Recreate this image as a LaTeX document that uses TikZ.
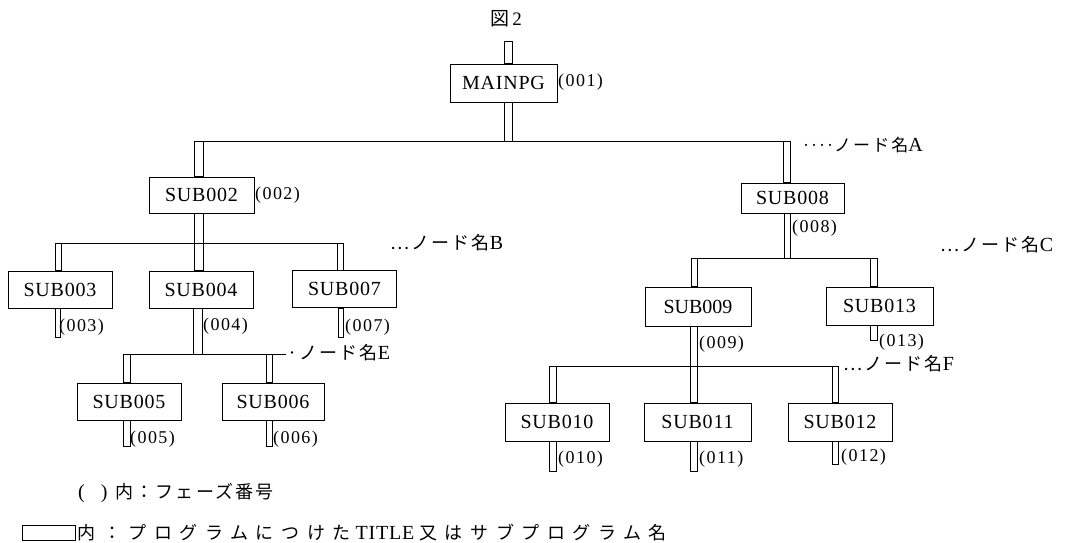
\documentclass[tikz,border=0pt]{standalone}
\usepackage{fontspec}
\setmainfont{Liberation Serif}
\newfontfamily\jpplain{Noto Sans CJK JP}
\newfontfamily\jpfont[LetterSpace=12]{Noto Sans CJK JP}
\newfontfamily\jplegend[LetterSpace=42]{Noto Sans CJK JP}
\newfontfamily\boxfont[LetterSpace=4]{Liberation Serif}
\newfontfamily\numfont[LetterSpace=8]{Liberation Serif}
\usetikzlibrary{positioning}

\begin{document}
\begin{tikzpicture}[x=1pt,y=-1pt,
  prog/.style={rectangle,draw=black,line width=0.7pt,fill=white,inner sep=0pt,minimum width=104pt,minimum height=37pt,font=\boxfont\fontsize{20}{22}\selectfont},
  bar/.style={draw=black,line width=0.6pt},
  bus/.style={draw=black,line width=0.7pt},
  phase/.style={anchor=west,inner sep=0pt,font=\numfont\fontsize{18}{20}\selectfont},
  tag/.style={anchor=west,inner sep=0pt,font=\fontsize{20}{22}\selectfont}]
\useasboundingbox (0,0) rectangle (1071,542);
\node[inner sep=0pt,font=\fontsize{19}{21}\selectfont] (title) at (506,19) {{\jpplain 図}\,2};
% bus levels and stub ends
\coordinate (top) at (0,41);
\coordinate (busA) at (0,141);
\coordinate (busB) at (0,243);
\coordinate (busE) at (0,354);
\coordinate (busC) at (0,258);
\coordinate (busF) at (0,366);
\coordinate (endB) at (0,337);
\coordinate (endE) at (0,446);
\coordinate (endC) at (0,340);
\coordinate (endF) at (0,471);
\coordinate (endG) at (0,464);
% programs
\node[prog,minimum width=107pt,minimum height=38pt] (main) at (503.5,83) {MAINPG};
\node[prog,minimum width=105pt,minimum height=36pt] (sub2) at (201.5,195) {SUB002};
\node[prog] (sub3) at (60,289.5) {SUB003};
\node[prog] (sub4) at (201,289.5) {SUB004};
\node[prog] (sub7) at (344.5,289) {SUB007};
\node[prog] (sub5) at (129,401.5) {SUB005};
\node[prog,minimum width=102pt] (sub6) at (273,401.5) {SUB006};
\node[prog,minimum width=103pt,minimum height=30pt] (sub8) at (792.5,198) {SUB008};
\node[prog,minimum width=106pt,minimum height=39pt] (sub9) at (698,306.5) {\addfontfeature{LetterSpace=0}SUB009};
\node[prog,minimum width=107pt,minimum height=38pt] (sub13) at (879.5,306) {SUB013};
\node[prog,minimum height=38pt] (sub10) at (557,422) {SUB010};
\node[prog,minimum width=107pt,minimum height=38pt] (sub11) at (697.5,422) {SUB011};
\node[prog,minimum height=38pt] (sub12) at (840,422) {SUB012};
% buses
\draw[bus] (194,0 |- busA) -- (790,0 |- busA);
\draw[bus] (55,0 |- busB) -- (343,0 |- busB);
\draw[bus] (123,0 |- busE) -- (286,0 |- busE);
\draw[bus] (691,0 |- busC) -- (877,0 |- busC);
\draw[bus] (549,0 |- busF) -- (838,0 |- busF);
% double bars
\draw[bar] (504,0 |- top) rectangle (512,0 |- main.north);
\draw[bar] (504,0 |- main.south) rectangle (512,0 |- busA);
\draw[bar] (194,0 |- busA) rectangle (203,0 |- sub2.north);
\draw[bar] (783,0 |- busA) rectangle (790,0 |- sub8.north);
\draw[bar] (194,0 |- sub2.south) rectangle (203,0 |- busB);
\draw[bar] (55,0 |- busB) rectangle (61,0 |- sub3.north);
\draw[bar] (194,0 |- busB) rectangle (203,0 |- sub4.north);
\draw[bar] (337,0 |- busB) rectangle (343,0 |- sub7.north);
\draw[bar] (55,0 |- sub3.south) rectangle (60,0 |- endB);
\draw[bar] (193,0 |- sub4.south) rectangle (202,0 |- busE);
\draw[bar] (338,0 |- sub7.south) rectangle (343,0 |- endB);
\draw[bar] (123,0 |- busE) rectangle (130,0 |- sub5.north);
\draw[bar] (266,0 |- busE) rectangle (272,0 |- sub6.north);
\draw[bar] (123,0 |- sub5.south) rectangle (130,0 |- endE);
\draw[bar] (266,0 |- sub6.south) rectangle (272,0 |- endE);
\draw[bar] (784,0 |- sub8.south) rectangle (790,0 |- busC);
\draw[bar] (691,0 |- busC) rectangle (697,0 |- sub9.north);
\draw[bar] (870,0 |- busC) rectangle (877,0 |- sub13.north);
\draw[bar] (690,0 |- sub9.south) rectangle (697,0 |- sub11.north);
\draw[bar] (870,0 |- sub13.south) rectangle (877,0 |- endC);
\draw[bar] (549,0 |- busF) rectangle (556,0 |- sub10.north);
\draw[bar] (832,0 |- busF) rectangle (838,0 |- sub12.north);
\draw[bar] (549,0 |- sub10.south) rectangle (556,0 |- endF);
\draw[bar] (690,0 |- sub11.south) rectangle (697,0 |- endF);
\draw[bar] (832,0 |- sub12.south) rectangle (838,0 |- endG);
% phase numbers
\node[phase] (ph1) at (558,82) {(001)};
\node[phase] (ph2) at (255,195) {(002)};
\node[phase] (ph3) at (59,327) {(003)};
\node[phase] (ph4) at (203,326) {(004)};
\node[phase] (ph7) at (345,327) {(007)};
\node[phase] (ph5) at (130,439) {(005)};
\node[phase] (ph6) at (273,439) {(006)};
\node[phase] (ph8) at (792,228) {(008)};
\node[phase] (ph9) at (699,344) {(009)};
\node[phase] (ph13) at (879,342) {(013)};
\node[phase] (ph10) at (558,459) {(010)};
\node[phase] (ph11) at (699,459) {(011)};
\node[phase] (ph12) at (841,457) {(012)};
% node names
\node[tag] (tagA) at (802,145) {{\jpplain\fontsize{16}{18}\selectfont ‥‥}{\jpfont\fontsize{17}{18}\selectfont ノード名}A};
\node[tag] (tagB) at (390,243) {{\jpfont\fontsize{18}{20}\selectfont …ノード名}B};
\node[tag] (tagC) at (940,245) {{\jpfont\fontsize{18}{20}\selectfont …ノード名}C};
\node[tag] (tagE) at (287,353) {{\jpfont\fontsize{18}{20}\selectfont ·ノード名}E};
\node[tag] (tagF) at (843,364) {{\jpfont\fontsize{18}{20}\selectfont …ノード名}F};
% legend
\node[tag] (legphase) at (78,493) {(\hspace{16pt})\hspace{8pt}{\jpfont\fontsize{18}{20}\selectfont 内：フェーズ番号}};
\node[rectangle,draw=black,line width=0.7pt,inner sep=0pt,minimum width=53pt,minimum height=15pt] (legbox) at (48.5,532.5) {};
\node[tag,right=2pt of legbox] (legprog) {{\jplegend\fontsize{18}{20}\selectfont 内：プログラムにつけた}\ {\addfontfeature{LetterSpace=4}TITLE}\ {\jplegend\fontsize{18}{20}\selectfont 又はサブプログラム名}};
\end{tikzpicture}
\end{document}
